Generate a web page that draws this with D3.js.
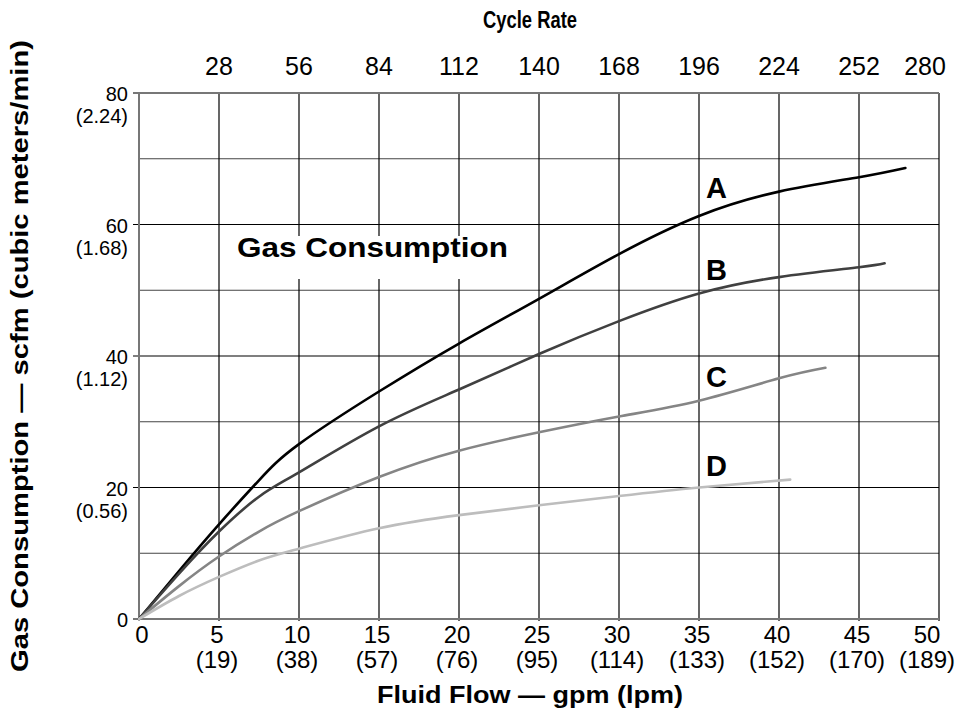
<!DOCTYPE html>
<html>
<head>
<meta charset="utf-8">
<script src="https://cdn.jsdelivr.net/npm/d3@7.9.0/dist/d3.min.js"></script>
<style>
  body { margin: 0; background: #fff; }
  svg text { font-family: "Liberation Sans", Arial, sans-serif; fill: #000; }
</style>
</head>
<body>
<svg id="chart" width="969" height="710"></svg>
<script>
// fluid flow ticks (gpm) and their lpm equivalents
const gpmTicks = [0, 5, 10, 15, 20, 25, 30, 35, 40, 45, 50];
const lpmLabels = ["", "(19)", "(38)", "(57)", "(76)", "(95)", "(114)", "(133)", "(152)", "(170)", "(189)"];
// cycle rate along the top
const cycleTicks = [28, 56, 84, 112, 140, 168, 196, 224, 252, 280];
// gas consumption ticks (scfm) and cubic meters/min
const scfmTicks = [0, 20, 40, 60, 80];
const cmmLabels = ["", "(0.56)", "(1.12)", "(1.68)", "(2.24)"];
const gridScfm = [10, 30, 50, 70];

// curves
const flowA = [0, 2.5, 5, 7.5, 10, 15, 20, 25, 30, 35, 40, 45, 47.9];
const gasA  = [0, 7.3, 14.4, 21.1, 26.6, 34.6, 41.9, 48.7, 55.5, 61.3, 65.0, 67.2, 68.6];
const flowB = [0, 2.5, 5, 7.5, 10, 15, 20, 25, 30, 35, 40, 45, 46.6];
const gasB  = [0, 6.9, 13.3, 18.6, 22.3, 29.3, 34.9, 40.3, 45.3, 49.5, 52.0, 53.5, 54.1];
const flowC = [0, 2.5, 5, 7.5, 10, 15, 20, 25, 30, 35, 40, 42.9];
const gasC  = [0, 5.0, 9.5, 13.3, 16.4, 21.6, 25.6, 28.4, 30.8, 33.2, 36.6, 38.2];
const flowD = [0, 2.5, 5, 7.5, 10, 15, 20, 25, 30, 35, 40.7];
const gasD  = [0, 3.5, 6.4, 8.9, 10.7, 13.8, 15.8, 17.3, 18.7, 20.0, 21.2];
const seriesNames = ["A", "B", "C", "D"];
const seriesColors = ["#000000", "#404040", "#858585", "#bdbdbd"];
// where the curve letters sit (gpm, scfm)
const letterPos = [[36.1, 64.0], [36.1, 51.6], [36.1, 35.3], [36.1, 21.7]];

const svg = d3.select("#chart");

const x = d3.scaleLinear().domain([0, 50]).range([139, 939]);
const xTop = d3.scaleLinear().domain([0, 280]).range([139, 939]);
const y = d3.scaleLinear().domain([0, 80]).range([619, 93]);

// last column of labels is pulled in so it fits the page
const edgeShift = (v, max) => v === max ? -12 : -2;

// grid
const grid = svg.append("g");
grid.selectAll(".hminor").data(gridScfm).join("line")
    .attr("x1", x(0)).attr("x2", x(50))
    .attr("y1", d => y(d)).attr("y2", d => y(d))
    .attr("stroke", "#444").attr("stroke-width", 1.2);
grid.selectAll(".hmajor").data(scfmTicks.filter(d => d > 0 && d < 80)).join("line")
    .attr("x1", x(0) - 6).attr("x2", x(50))
    .attr("y1", d => y(d)).attr("y2", d => y(d))
    .attr("stroke", "#000").attr("stroke-width", 1.2);
grid.selectAll(".vline").data(gpmTicks.filter(d => d > 0)).join("line")
    .attr("x1", d => x(d)).attr("x2", d => x(d))
    .attr("y1", y(80)).attr("y2", y(0) + 2)
    .attr("stroke", "#000").attr("stroke-width", 1.2);

// white patch behind the inner title
svg.append("rect")
    .attr("x", 228).attr("y", 236).attr("width", 288).attr("height", 43)
    .attr("fill", "#fff");
svg.append("text")
    .attr("x", 237).attr("y", 257)
    .attr("font-size", 28).attr("font-weight", "bold")
    .attr("textLength", 271).attr("lengthAdjust", "spacingAndGlyphs")
    .text("Gas Consumption");

// frame lines: left, bottom, top
svg.append("line").attr("x1", x(0)).attr("x2", x(0)).attr("y1", y(80) - 1).attr("y2", y(0) + 1)
    .attr("stroke", "#777").attr("stroke-width", 2);
svg.append("line").attr("x1", x(0) - 6).attr("x2", x(50)).attr("y1", y(0)).attr("y2", y(0))
    .attr("stroke", "#777").attr("stroke-width", 2);
svg.append("line").attr("x1", x(0) - 6).attr("x2", x(50)).attr("y1", y(80)).attr("y2", y(80))
    .attr("stroke", "#777").attr("stroke-width", 2);

// curves
const line = d3.line()
    .x(d => x(d[0]))
    .y(d => y(d[1]))
    .curve(d3.curveNatural);

const flows = [flowA, flowB, flowC, flowD];
const gases = [gasA, gasB, gasC, gasD];
flows.forEach((f, i) => {
    svg.append("path")
        .datum(f.map((v, j) => [v, gases[i][j]]))
        .attr("d", line)
        .attr("fill", "none")
        .attr("stroke", seriesColors[i])
        .attr("stroke-width", 2.6)
        .attr("stroke-linecap", "round");
});

// curve letters
seriesNames.forEach((n, i) => {
    svg.append("text")
        .attr("x", x(letterPos[i][0])).attr("y", y(letterPos[i][1]))
        .attr("text-anchor", "middle")
        .attr("font-size", 29).attr("font-weight", "bold")
        .text(n);
});

// left tick labels
const yl = svg.append("g");
scfmTicks.forEach((d, i) => {
    yl.append("text")
        .attr("x", 128).attr("y", y(d) + 1)
        .attr("text-anchor", "end").attr("dominant-baseline", "central")
        .attr("font-size", 20)
        .text(d);
    if (cmmLabels[i]) {
        yl.append("text")
            .attr("x", 128).attr("y", y(d) + 23)
            .attr("text-anchor", "end").attr("dominant-baseline", "central")
            .attr("font-size", 20)
            .text(cmmLabels[i]);
    }
});

// bottom tick labels
const xl = svg.append("g");
gpmTicks.forEach((d, i) => {
    xl.append("text")
        .attr("x", x(d) + (d === 0 ? 3 : edgeShift(d, 50))).attr("y", 634)
        .attr("text-anchor", "middle").attr("dominant-baseline", "central")
        .attr("font-size", 24)
        .text(d);
    if (lpmLabels[i]) {
        xl.append("text")
            .attr("x", x(d) + edgeShift(d, 50)).attr("y", 659)
            .attr("text-anchor", "middle").attr("dominant-baseline", "central")
            .attr("font-size", 24)
            .text(lpmLabels[i]);
    }
});

// top tick labels
svg.append("g").selectAll("text").data(cycleTicks).join("text")
    .attr("x", d => xTop(d) + (d === 280 ? -14 : 0)).attr("y", 66)
    .attr("text-anchor", "middle").attr("dominant-baseline", "central")
    .attr("font-size", 25)
    .text(d => d);

// titles
svg.append("text")
    .attr("x", 483).attr("y", 28)
    .attr("font-size", 23).attr("font-weight", "bold")
    .attr("textLength", 94).attr("lengthAdjust", "spacingAndGlyphs")
    .text("Cycle Rate");
svg.append("text")
    .attr("x", 377).attr("y", 703)
    .attr("font-size", 23).attr("font-weight", "bold")
    .attr("textLength", 306).attr("lengthAdjust", "spacingAndGlyphs")
    .text("Fluid Flow — gpm (lpm)");
svg.append("text")
    .attr("transform", "translate(28,672) rotate(-90)")
    .attr("font-size", 23).attr("font-weight", "bold")
    .attr("textLength", 632).attr("lengthAdjust", "spacingAndGlyphs")
    .text("Gas Consumption — scfm (cubic meters/min)");
</script>
</body>
</html>
